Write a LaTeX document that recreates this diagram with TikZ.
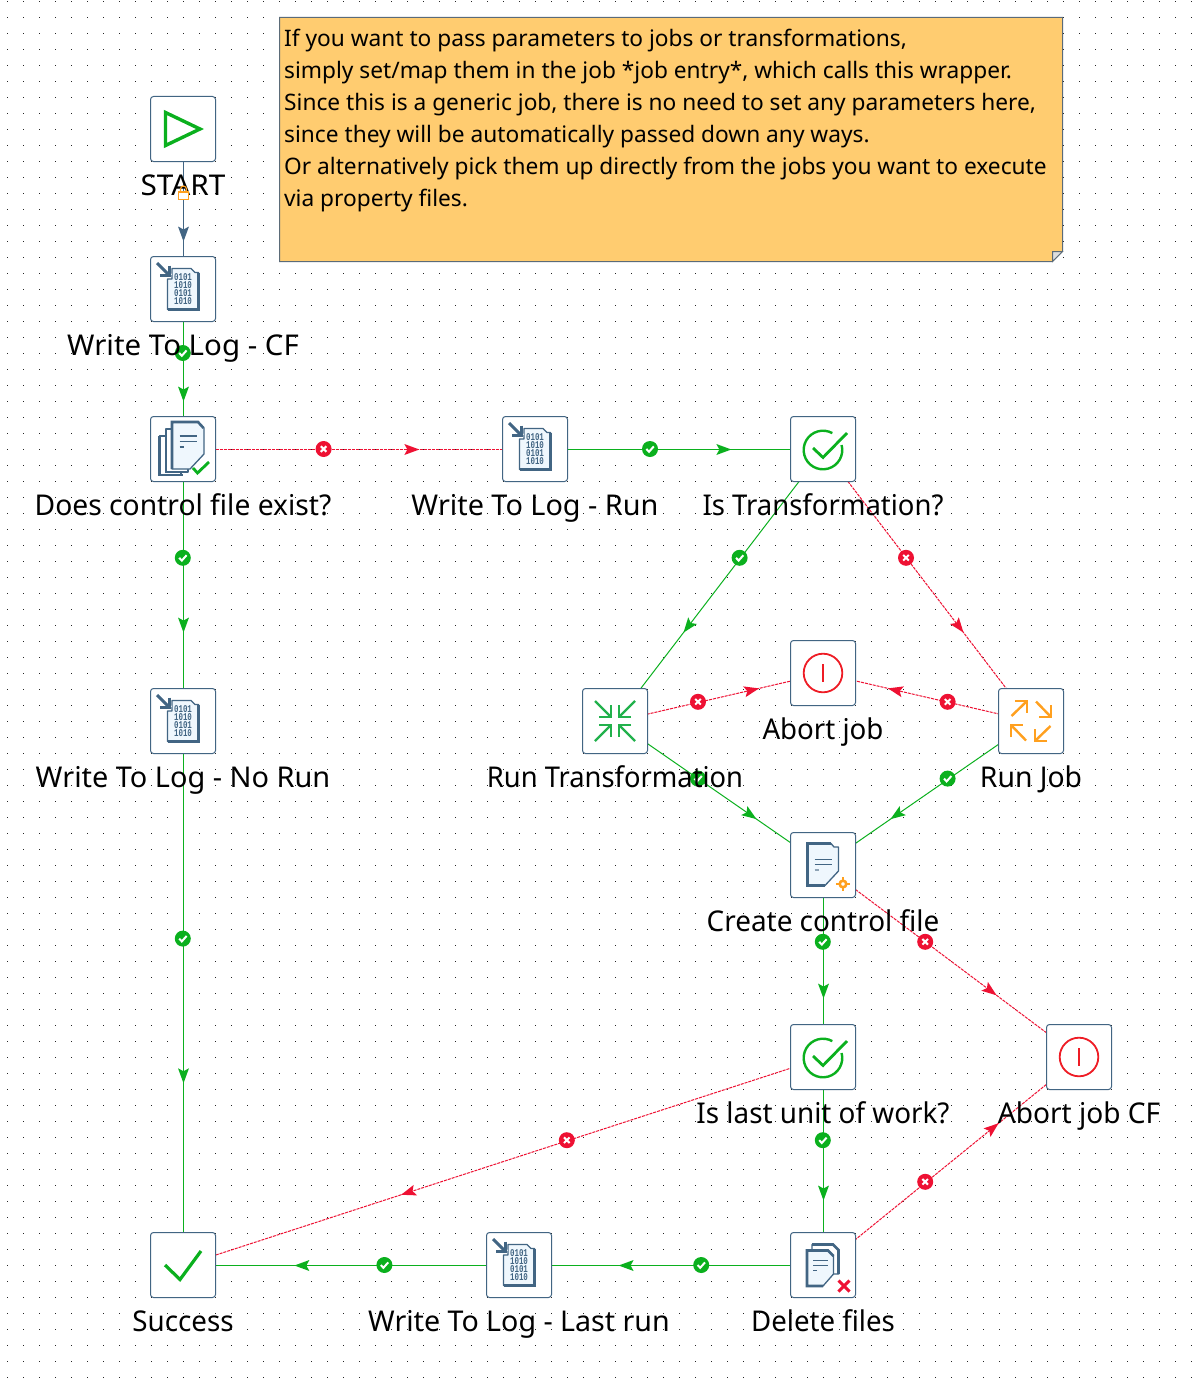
\documentclass[tikz,border=0pt]{standalone}
\usepackage{fontspec}
\usepackage{graphicx}
\setmainfont{Noto Sans}
\newfontfamily\bitsfont{Liberation Mono}
\usetikzlibrary{calc}
\definecolor{hopgreen}{HTML}{0BB01E}
\definecolor{hopred}{HTML}{EE1133}
\definecolor{iconblue}{HTML}{426583}
\definecolor{pale}{HTML}{EFF7FD}
\definecolor{abortred}{HTML}{EE1C25}
\definecolor{orangeic}{HTML}{FFA01F}
\definecolor{greenic}{HTML}{22B14C}
\definecolor{notefill}{HTML}{FFCC70}
\definecolor{noteedge}{HTML}{5B6B78}
\pgfdeclarelayer{bg}\pgfdeclarelayer{hop}\pgfdeclarelayer{top}\pgfdeclarelayer{over}
\pgfsetlayers{bg,main,hop,top,over}
\tikzset{
 jobbox/.style={draw=iconblue,fill=white,rounded corners=3pt,minimum size=65pt,inner sep=0pt,outer sep=0pt,line width=1pt},
 joblabel/.style={anchor=base,inner sep=0pt,font=\fontsize{28.6}{30}\selectfont,text=black},
 okline/.style={draw=hopgreen,line width=1pt},
 errline/.style={draw=hopred,line width=1pt,dash pattern=on 3pt off 1pt},
 page/.style={draw=iconblue,fill=pale,line width=1.3pt,line join=round},
 thick blue/.style={draw=iconblue,line width=2.6pt,line join=miter},
 pics/starticon/.style={code={\draw[hopgreen,line width=3.4pt,line join=miter] (-17.5,-16.5)--(17,0)--(-17.5,16.5)--cycle;}},
 pics/binfile/.style={code={
   \path[page] (-15.5,-10)--(-11,-10)--(-11,-20.5)--(8,-20.5)--(12,-16.5)--(15.5,-16.5)--(15.5,20.5)--(-15.5,20.5)--cycle;
   \draw[thick blue] (15.5,-16.5)--(15.5,20.5)--(-15.5,20.5);
   \node[inner sep=0pt,align=center,text=iconblue,xscale=.72,transform shape,font=\bitsfont\bfseries\fontsize{10.4}{8.2}\selectfont] (bits) at (0,0) {0101\\1010\\0101\\1010};
   \draw[white,line width=5pt] (-24,-24)--(-13,-13);
   \draw[iconblue,line width=3pt] (-26,-26)--(-15,-15);
   \draw[iconblue,line width=3pt] (-14,-23.5)--(-14,-14)--(-23.5,-14);
 }},
 pics/stackicon/.style={code={
   \path[page,fill=white] (-23.5,-13)--(-2,-13)--(-2,26)--(-23.5,26)--cycle;
   \draw[thick blue] (-23.5,-13)--(-23.5,26)--(0,26);
   \path[page,fill=white] (-17,-20)--(5,-20)--(5,23)--(-17,23)--cycle;
   \draw[thick blue] (-17,-20)--(-17,23)--(5,23);
   \path[page] (-11,-27)--(15,-27)--(21,-21)--(21,5)--(7,20)--(-11,20)--cycle;
   \draw[thick blue] (-11,20)--(-11,-27)--(15,-27)--(20.5,-21);
   \draw[iconblue,line width=1.1pt] (-3.5,-13)--(14,-13) (-3.5,-7.5)--(14,-7.5) (-3.5,-2)--(1,-2);
   \draw[hopgreen,line width=2.8pt] (10,19)--(14.5,24)--(26,13);
 }},
 pics/checkicon/.style={code={
   \draw[hopgreen,line width=2.4pt] (18.6,-4) arc[start angle=-15,end angle=299,radius=19.3];
   \draw[hopgreen,line width=2.8pt,line join=miter] (-10,-1)--(0,8.5)--(24,-16);
 }},
 pics/aborticon/.style={code={
   \draw[abortred,line width=1.8pt] (0,0) circle[radius=19.3];
   \draw[abortred,line width=1.8pt] (0,-9)--(0,9);
 }},
 pics/transicon/.style={code={
   \foreach \sx/\sy in {1/1,-1/1,1/-1,-1/-1}{
     \begin{scope}[xscale=\sx,yscale=\sy]
     \draw[greenic,line width=2.4pt] (-20,-20)--(-4,-4);
     \draw[greenic,line width=2.4pt] (-16,-4)--(-4,-4)--(-4,-16);
     \end{scope}}
 }},
 pics/jobicon/.style={code={
   \foreach \a in {0,90,180,270}{
     \begin{scope}[rotate=\a]
     \draw[orangeic,line width=2.4pt] (-19.5,-5)--(-4,-20);
     \draw[orangeic,line width=2.4pt] (-16,-20)--(-4,-20)--(-4,-8);
     \end{scope}}
 }},
 pics/createicon/.style={code={
   \path[page] (-15.5,-21.5)--(8,-21.5)--(11,-18)--(15.5,-18)--(15.5,6)--(2,20.5)--(-15.5,20.5)--cycle;
   \draw[thick blue] (2,20.5)--(-15.5,20.5)--(-15.5,-21.5)--(8,-21.5);
   \draw[iconblue,line width=1.2pt] (15.5,-18)--(15.5,6);
   \draw[iconblue,line width=1.1pt] (-8.5,-5.5)--(9,-5.5) (-8.5,-0.5)--(9,-0.5);
   \draw[iconblue!60,line width=1.1pt] (-8.5,5)--(-4,5);
   \draw[orangeic,line width=2.6pt] (20,19) circle[radius=3.3];
   \draw[orangeic,line width=2.6pt] (20,12)--(20,15.5) (20,22.5)--(20,26) (13,19)--(16.5,19) (23.5,19)--(27,19);
 }},
 pics/deleteicon/.style={code={
   \path[page,fill=white] (-11,-20.5)--(10,-20.5)--(15.5,-15)--(15.5,9)--(-11,9)--cycle;
   \draw[thick blue] (-11,-20.5)--(10,-20.5)--(15.5,-15)--(15.5,9);
   \path[page] (-16,-14.5)--(5,-14.5)--(10.5,-9)--(10.5,9)--(0,21)--(-16,21)--cycle;
   \draw[thick blue] (0,21)--(-16,21)--(-16,-14.5)--(5,-14.5)--(10.5,-9);
   \draw[iconblue,line width=1.1pt] (-10,-4.5)--(5,-4.5) (-10,0.5)--(5,0.5) (-10,5.5)--(-6,5.5);
   \draw[hopred,line width=3pt] (15.5,15.5)--(26.5,26.5) (26.5,15.5)--(15.5,26.5);
 }},
 pics/successicon/.style={code={
   \draw[hopgreen,line width=3.2pt,line join=miter] (-18,0)--(-3,14.5)--(18,-14);
 }},
 pics/okmark/.style={code={
   \begin{scope}[shift={(-.7,-.5)}]
   \fill[hopgreen] (0,0) circle[radius=8];
   \draw[white,line width=2pt] (-3.6,0)--(-1,2.8)--(3.8,-2.6);
   \end{scope}
 }},
 pics/errmark/.style={code={
   \begin{scope}[shift={(-.7,-.5)}]
   \fill[hopred] (0,0) circle[radius=8];
   \draw[white,line width=2pt] (-2.8,-2.8)--(2.8,2.8) (-2.8,2.8)--(2.8,-2.8);
   \end{scope}
 }},
 pics/lockmark/.style={code={
   \draw[orangeic,line width=1.2pt] (-3,-1.5)--(-3,-4.5) arc[start angle=180,end angle=360,radius=3]--(3,-1.5);
   \draw[orangeic,fill=white,line width=1.4pt] (-5,-1.5)rectangle(5,6.2);
 }},
 pics/okhead/.style={code={\fill[hopgreen] (0,0)--(-15,5.5)--(-12,0)--(-15,-5.5)--cycle;}},
 pics/errhead/.style={code={\fill[hopred] (0,0)--(-15,5.5)--(-12,0)--(-15,-5.5)--cycle;}},
 pics/bluehead/.style={code={\fill[iconblue] (0,0)--(-15,5.5)--(-12,0)--(-15,-5.5)--cycle;}},
}
% name, x, y, icon pic, label, horizontal fit of the label
\newcommand\jobnode[6]{%
  \node[jobbox] (#1) at (#2,#3) {};
  \pic at (#1) {#4};
  \begin{pgfonlayer}{top}
    \node[joblabel] (#1-label) at ($(#1.center)+(0,66.3)$) {\scalebox{#6}[1]{#5}};
  \end{pgfonlayer}}
% from, to, arrow position, kind (ok/err)
\newcommand\hopline[4]{%
  \begin{pgfonlayer}{bg}
    \draw[#4line] ($(#1.center)+(.5,.5)$) -- ($(#2.center)+(.5,.5)$);
  \end{pgfonlayer}
  \begin{pgfonlayer}{hop}
    \path ($(#1.center)+(.5,.5)$) -- pic[pos=.4]{#4mark} pic[pos=#3,sloped,allow upside down]{#4head} ($(#2.center)+(.5,.5)$);
  \end{pgfonlayer}}
\begin{document}
\begin{tikzpicture}[x=1pt,y=-1pt]
\useasboundingbox (0,0) rectangle (1194,1378);
\begin{pgfonlayer}{bg}
\fill[white] (0,0) rectangle (1194,1378);
\foreach \i in {0,...,74}{\foreach \j in {0,...,86}{
  \fill[black!85] ({7+16*\i},{1+16*\j}) rectangle ++(1,1);}}
\end{pgfonlayer}

\node[minimum width=783pt,minimum height=244pt,inner sep=0pt,outer sep=0pt,anchor=north west] (note) at (279.5,17.5) {};
\draw[fill=notefill,draw=noteedge,line width=1pt] (note.north west)--(note.north east)--($(note.south east)+(0,-10)$)--($(note.south east)+(-10,0)$)--(note.south west)--cycle;
\draw[fill=black!13,draw=noteedge,line width=1pt] ($(note.south east)+(0,-10)$)--($(note.south east)+(-10,-10)$)--($(note.south east)+(-10,0)$)--cycle;
\node[anchor=north west,inner sep=0pt,align=left,font=\fontsize{22.7}{32}\selectfont] (notetext) at ($(note.north west)+(4.5,11.6)$) {If you want to pass parameters to jobs or transformations,\\simply set/map them in the job *job entry*, which calls this wrapper.\\Since this is a generic job, there is no need to set any parameters here,\\since they will be automatically passed down any ways.\\Or alternatively pick them up directly from the jobs you want to execute\\via property files.};

\jobnode{start}{183}{129}{starticon}{START}{1.04}
\jobnode{logcf}{183}{289}{binfile}{Write To Log - CF}{1.03}
\jobnode{exist}{183}{449}{stackicon}{Does control file exist?}{.987}
\jobnode{logrun}{535}{449}{binfile}{Write To Log - Run}{1.008}
\jobnode{istrans}{823}{449}{checkicon}{Is Transformation?}{.96}
\jobnode{lognorun}{183}{721}{binfile}{Write To Log - No Run}{1.01}
\jobnode{runtrans}{615}{721}{transicon}{Run Transformation}{.955}
\jobnode{abort}{823}{673}{aborticon}{Abort job}{.968}
\jobnode{runjob}{1031}{721}{jobicon}{Run Job}{.99}
\jobnode{create}{823}{865}{createicon}{Create control file}{.975}
\jobnode{islast}{823}{1057}{checkicon}{Is last unit of work?}{.973}
\jobnode{abortcf}{1079}{1057}{aborticon}{Abort job CF}{.982}
\jobnode{success}{183}{1265}{successicon}{Success}{.97}
\jobnode{loglast}{519}{1265}{binfile}{Write To Log - Last run}{1}
\jobnode{delete}{823}{1265}{deleteicon}{Delete files}{.966}

\begin{pgfonlayer}{bg}
\draw[iconblue,line width=1pt] ($(start.center)+(.5,.5)$) -- ($(logcf.center)+(.5,.5)$);
\end{pgfonlayer}
\begin{pgfonlayer}{hop}
\path ($(start.center)+(.5,.5)$) -- pic[pos=.7,sloped,allow upside down]{bluehead} ($(logcf.center)+(.5,.5)$);
\end{pgfonlayer}
\begin{pgfonlayer}{over}
\path ($(start.center)+(.5,.5)$) -- pic[pos=.4]{lockmark} ($(logcf.center)+(.5,.5)$);
\end{pgfonlayer}

\hopline{logcf}{exist}{.7}{ok}
\hopline{exist}{logrun}{.67}{err}
\hopline{exist}{lognorun}{.673}{ok}
\hopline{logrun}{istrans}{.68}{ok}
\hopline{istrans}{runtrans}{.673}{ok}
\hopline{istrans}{runjob}{.673}{err}
\hopline{runtrans}{abort}{.69}{err}
\hopline{runjob}{abort}{.69}{err}
\hopline{runtrans}{create}{.678}{ok}
\hopline{runjob}{create}{.678}{ok}
\hopline{create}{islast}{.693}{ok}
\hopline{create}{abortcf}{.676}{err}
\hopline{islast}{delete}{.6875}{ok}
\hopline{delete}{abortcf}{.684}{err}
\hopline{delete}{loglast}{.674}{ok}
\hopline{loglast}{success}{.67}{ok}
\hopline{islast}{success}{.66}{err}
\hopline{lognorun}{success}{.665}{ok}
\end{tikzpicture}
\end{document}
